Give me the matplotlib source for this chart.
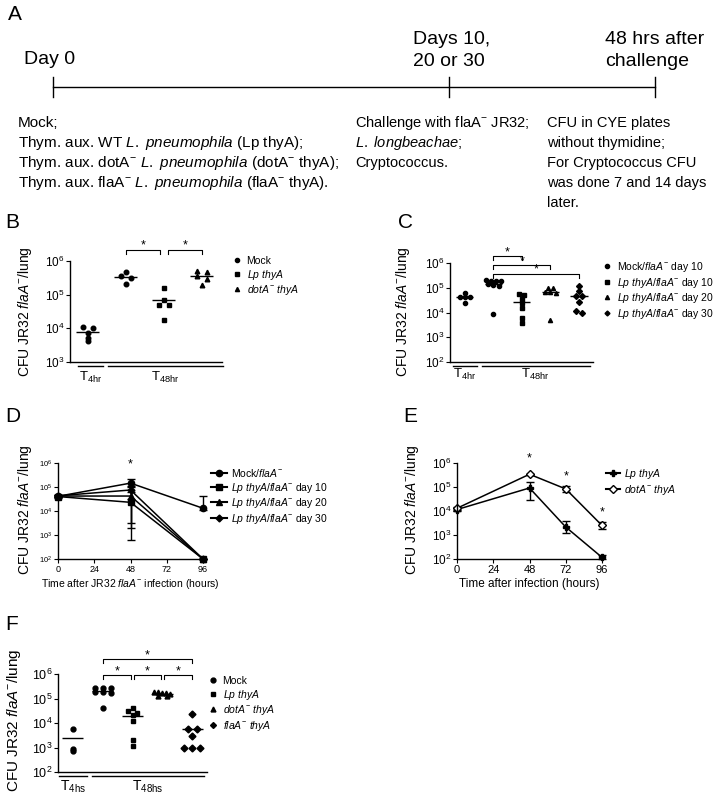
import numpy as np
import matplotlib
matplotlib.use('Agg')
import matplotlib.pyplot as plt
from matplotlib.lines import Line2D
from matplotlib.ticker import NullLocator

plt.rcParams['font.family'] = ['Liberation Sans', 'DejaVu Sans']
plt.rcParams['mathtext.fontset'] = 'custom'
plt.rcParams['mathtext.rm'] = 'Liberation Sans'
plt.rcParams['mathtext.it'] = 'Liberation Sans:italic'
plt.rcParams['mathtext.bf'] = 'Liberation Sans:bold'
plt.rcParams['mathtext.default'] = 'regular'
plt.rcParams['axes.linewidth'] = 1.0

# ---- data ----
# B: CFU at 4 h (mock) and 48 h after challenge
b_mock_4h = [1.1e4, 1.05e4, 7.5e3, 5.3e3, 4.2e3]
b_mock_48h = [4.7e5, 3.6e5, 3.2e5, 2.05e5]
b_lp_48h = [1.58e5, 7.1e4, 4.8e4, 4.8e4, 1.8e4]
b_dota_48h = [4.9e5, 4.8e5, 3.5e5, 2.9e5, 1.95e5]

# C: rechallenge at day 10/20/30
c_mock_4h = [6.2e4, 4.3e4, 4.2e4, 4.1e4, 2.5e4]
c_mock_d10 = [2.0e5, 1.9e5, 1.9e5, 1.8e5, 1.45e5, 1.3e5, 1.2e5, 9.0e3]
c_lp_d10 = [5.8e4, 4.9e4, 3.4e4, 2.5e4, 1.5e4, 6.2e3, 3.8e3]
c_lp_d20 = [1.0e5, 0.98e5, 6.8e4, 6.6e4, 6.4e4, 4.8e3]
c_lp_d30 = [1.15e5, 7.5e4, 4.8e4, 4.6e4, 2.7e4, 1.2e4, 1.0e4]

# D: time course
d_hours = [0, 48, 96]
d_mock = [4.1e4, 1.45e5, 1.3e4]
d_mock_hi = [4.5e4, 2.1e5, 4.2e4]
d_mock_lo = [3.8e4, 1.0e5, 1.1e4]
d_d10 = [4.0e4, 2.3e4, 1e2]
d_d10_hi = [4.4e4, 3.3e4, 1e2]
d_d10_lo = [3.6e4, 6.3e2, 1e2]
d_d20 = [4.2e4, 4.2e4, 1e2]
d_d20_hi = [4.6e4, 6.0e4, 1e2]
d_d20_lo = [3.8e4, 1.9e3, 1e2]
d_d30 = [4.3e4, 7.5e4, 1e2]
d_d30_hi = [4.7e4, 1.05e5, 1e2]
d_d30_lo = [3.9e4, 3.3e3, 1e2]

# E: time course
e_hours = [0, 48, 72, 96]
e_lp = [1.15e4, 9.1e4, 2.15e3, 1.17e2]
e_lp_hi = [1.3e4, 1.55e5, 4.0e3, 1.4e2]
e_lp_lo = [1.0e4, 2.8e4, 1.2e3, 1.0e2]
e_dota = [1.3e4, 3.4e5, 8.3e4, 2.5e3]
e_dota_hi = [1.5e4, 3.6e5, 1.1e5, 3.6e3]
e_dota_lo = [1.1e4, 3.2e5, 6.0e4, 1.85e3]

# F
f_mock_4h = [5.5e3, 9.0e2, 7.0e2]
f_mock = [2.8e5, 2.6e5, 2.7e5, 1.85e5, 1.8e5, 1.75e5, 4.2e4]
f_lp = [4.2e4, 3.0e4, 2.6e4, 2.2e4, 1.2e4, 2.1e3, 1.1e3]
f_dota = [1.85e5, 1.8e5, 1.6e5, 1.6e5, 1.55e5, 1.3e5, 1.25e5]
f_flaa = [2.3e4, 5.7e3, 5.7e3, 2.9e3, 1.0e3, 1.0e3, 1.0e3]

YLAB = r'CFU JR32 $\mathit{flaA}^{-}$/lung'

W, H = 713, 795
fig = plt.figure(figsize=(W / 100, H / 100), dpi=100)

# overlay in pixel coordinates for panel A and labels
ov = fig.add_axes([0, 0, 1, 1], zorder=-1)
ov.set_xlim(0, W)
ov.set_ylim(H, 0)
ov.axis('off')


def px_axes(l, t, r, b):
    return fig.add_axes([l / W, 1 - b / H, (r - l) / W, (b - t) / H])


def style_log(ax, ymin, ymax, fs):
    ax.set_yscale('log')
    ax.set_ylim(ymin, ymax)
    ax.set_yticks(10.0 ** np.arange(np.log10(ymin), np.log10(ymax) + 1))
    ax.yaxis.set_minor_locator(NullLocator())
    ax.tick_params(axis='y', labelsize=fs, length=3, width=0.8, pad=1)
    for s in ['top', 'right']:
        ax.spines[s].set_visible(False)


def spread(vals, step, maxw, tol=0.1):
    # simple beeswarm: points with close values side by side
    logs = np.log10(vals)
    order = np.argsort(-logs)
    offs = np.zeros(len(vals))
    i = 0
    while i < len(order):
        j = i
        while j + 1 < len(order) and logs[order[i]] - logs[order[j + 1]] < tol:
            j += 1
        n = j - i + 1
        st = min(step, maxw / (n - 1)) if n > 1 else 0
        for k in range(n):
            offs[order[i + k]] = (k - (n - 1) / 2) * st
        i = j + 1
    return offs


def dot_panel(ax, groups, markers, ms, step, maxw, half):
    for i, (vals, m) in enumerate(zip(groups, markers)):
        vals = np.array(vals)
        x = i + spread(vals, step, maxw)
        ax.plot(x, vals, ls='', marker=m, color='k', ms=ms, clip_on=False)
        ax.hlines(vals.mean(), i - half, i + half, color='k', lw=1)


def time_groups(ax, spans, labels, y_line, y_text, fs):
    tr = ax.get_xaxis_transform()
    for (a, b), lab in zip(spans, labels):
        ax.plot([a, b], [y_line, y_line], color='k', lw=1, transform=tr, clip_on=False)
        ax.text((a + b) / 2, y_text, lab, transform=tr, ha='center', va='center', fontsize=fs)


def bracket(ax, x1, x2, y, tick=0.04, fs=9):
    tr = ax.get_xaxis_transform()
    ax.plot([x1, x1, x2, x2], [y - tick, y, y, y - tick], color='k', lw=0.8,
            transform=tr, clip_on=False)
    ax.text((x1 + x2) / 2, y - 0.02, '*', transform=tr, ha='center', va='bottom', fontsize=fs)


def legend_at(ax, handles, labels, x, y, fs, hl=1.0):
    ax.legend(handles, labels, loc='upper left', bbox_to_anchor=(x / W, 1 - y / H),
              bbox_transform=fig.transFigure, frameon=False, fontsize=fs, borderpad=0,
              borderaxespad=0, handletextpad=0.4, labelspacing=0.15, handlelength=hl)


def mk(m, ms, ls='', **kw):
    return Line2D([], [], color='k', marker=m, ms=ms, ls=ls, **kw)


# ---- panel A ----
ov.text(8, 14, 'A', fontsize=15, ha='left', va='center')
ov.plot([53, 655], [87, 87], color='k', lw=1)
for x in [53, 449, 655]:
    ov.plot([x, x], [77, 97], color='k', lw=1)
ov.text(24, 60, 'Day 0', fontsize=14, va='center')
ov.text(413, 40, 'Days 10,', fontsize=14, va='center')
ov.text(413, 62, '20 or 30', fontsize=14, va='center')
ov.text(605, 40, '48 hrs after', fontsize=14, va='center')
ov.text(605, 62, 'challenge', fontsize=14, va='center')

col1 = ['Mock;',
        r'Thym. aux. WT $\mathit{L.\ pneumophila}$ (Lp thyA);',
        r'Thym. aux. dotA$^{-}$ $\mathit{L.\ pneumophila}$ (dotA$^{-}$ thyA);',
        r'Thym. aux. flaA$^{-}$ $\mathit{L.\ pneumophila}$ (flaA$^{-}$ thyA).']
col2 = [r'Challenge with flaA$^{-}$ JR32;', r'$\mathit{L.\ longbeachae}$;', 'Cryptococcus.']
col3 = ['CFU in CYE plates', 'without thymidine;', 'For Cryptococcus CFU',
        'was done 7 and 14 days', 'later.']
for x0, col, fs in [(18, col1, 11), (355, col2, 10.5), (547, col3, 10.5)]:
    for k, s in enumerate(col):
        ov.text(x0, 123 + 20 * k, s, fontsize=fs, va='center')

# ---- panel B ----
ov.text(5, 222, 'B', fontsize=15, va='center')
axB = px_axes(70, 261, 222, 362)
style_log(axB, 1e3, 1e6, 8.5)
axB.set_xlim(-0.47, 3.53)
axB.set_xticks([])
dot_panel(axB, [b_mock_4h, b_mock_48h, b_lp_48h, b_dota_48h],
          ['o', 'o', 's', '^'], 3.3, 0.26, 0.6, 0.3)
bracket(axB, 1.0, 1.9, 1.11)
bracket(axB, 2.1, 3.0, 1.11)
time_groups(axB, [(-0.26, 0.39), (0.53, 3.55)], [r'T$_{4hr}$', r'T$_{48hr}$'], -0.04, -0.15, 9.5)
ov.text(25, 312, YLAB, rotation=90, ha='center', va='center', fontsize=10)
legend_at(axB, [mk('o', 3), mk('s', 3), mk('^', 3)],
          ['Mock', r'$\mathit{Lp\ thyA}$', r'$\mathit{dotA}^{-}\ \mathit{thyA}$'], 232, 256, 7.5)

# ---- panel C ----
ov.text(398, 222, 'C', fontsize=15, va='center')
axC = px_axes(450, 263, 593, 362)
style_log(axC, 1e2, 1e6, 8.5)
axC.set_xlim(-0.52, 4.49)
axC.set_xticks([])
dot_panel(axC, [c_mock_4h, c_mock_d10, c_lp_d10, c_lp_d20, c_lp_d30],
          ['o', 'o', 's', '^', 'D'], 3.0, 0.18, 0.55, 0.3)
bracket(axC, 1, 2, 1.07)
bracket(axC, 1, 3, 0.98)
bracket(axC, 1, 4, 0.89)
time_groups(axC, [(-0.42, 0.42), (0.59, 4.37)], [r'T$_{4hr}$', r'T$_{48hr}$'], -0.04, -0.13, 9.5)
ov.text(403, 312, YLAB, rotation=90, ha='center', va='center', fontsize=10)
legend_at(axC, [mk('o', 3), mk('s', 3), mk('^', 3), mk('D', 2.5)],
          [r'Mock/$\mathit{flaA}^{-}$ day 10',
           r'$\mathit{Lp\ thyA/flaA}^{-}$ day 10',
           r'$\mathit{Lp\ thyA/flaA}^{-}$ day 20',
           r'$\mathit{Lp\ thyA/flaA}^{-}$ day 30'], 602, 260, 7.5)

# ---- panel D ----
ov.text(5, 417, 'D', fontsize=15, va='center')
axD = px_axes(58, 463, 203, 559)
style_log(axD, 1e2, 1e6, 5.5)
axD.set_xlim(0, 96)
axD.set_xticks([0, 24, 48, 72, 96])
axD.tick_params(axis='x', labelsize=6.5, length=3, width=0.8, pad=1.5)
axD.set_xlabel(r'Time after JR32 $\mathit{flaA}^{-}$ infection (hours)', fontsize=7.5, labelpad=2)
d_series = [(d_mock, d_mock_lo, d_mock_hi, 'o', 4.5),
            (d_d10, d_d10_lo, d_d10_hi, 's', 4.5),
            (d_d20, d_d20_lo, d_d20_hi, '^', 4.5),
            (d_d30, d_d30_lo, d_d30_hi, 'D', 3.5)]
for y, lo, hi, m, ms in d_series:
    y = np.array(y)
    axD.errorbar(d_hours, y, yerr=[y - np.array(lo), np.array(hi) - y], color='k',
                 marker=m, ms=ms, lw=1.1, capsize=3, elinewidth=1, clip_on=False)
axD.text(48, 0.98, '*', transform=axD.get_xaxis_transform(), ha='center', va='center', fontsize=9)
ov.text(25, 510, YLAB, rotation=90, ha='center', va='center', fontsize=10)
legend_at(axD, [mk('o', 4.5, '-'), mk('s', 4.5, '-'), mk('^', 4.5, '-'), mk('D', 3.5, '-')],
          [r'Mock/$\mathit{flaA}^{-}$',
           r'$\mathit{Lp\ thyA/flaA}^{-}$ day 10',
           r'$\mathit{Lp\ thyA/flaA}^{-}$ day 20',
           r'$\mathit{Lp\ thyA/flaA}^{-}$ day 30'], 211, 467, 7.5, hl=1.5)

# ---- panel E ----
ov.text(403, 417, 'E', fontsize=15, va='center')
axE = px_axes(457, 463, 602, 559)
style_log(axE, 1e2, 1e6, 8.5)
axE.set_xlim(0, 96)
axE.set_xticks([0, 24, 48, 72, 96])
axE.tick_params(axis='x', labelsize=8, length=3, width=0.8, pad=1.5)
axE.set_xlabel('Time after infection (hours)', fontsize=8.5, labelpad=2)
for y, lo, hi, m, ms, fc in [(e_lp, e_lp_lo, e_lp_hi, 'P', 4, 'k'),
                             (e_dota, e_dota_lo, e_dota_hi, 'D', 4.5, 'white')]:
    y = np.array(y)
    axE.errorbar(e_hours, y, yerr=[y - np.array(lo), np.array(hi) - y], color='k',
                 marker=m, ms=ms, mfc=fc, lw=1.1, capsize=3, elinewidth=1, clip_on=False)
for hx, sy in [(48, 1.05), (72, 0.86), (96, 0.48)]:
    axE.text(hx, sy, '*', transform=axE.get_xaxis_transform(), ha='center', va='center', fontsize=9)
ov.text(412, 510, YLAB, rotation=90, ha='center', va='center', fontsize=10)
legend_at(axE, [mk('P', 4, '-'), mk('D', 4.5, '-', mfc='white')],
          [r'$\mathit{Lp\ thyA}$', r'$\mathit{dotA}^{-}\ \mathit{thyA}$'], 606, 467, 7.5, hl=1.3)

# ---- panel F ----
ov.text(5, 625, 'F', fontsize=15, va='center')
axF = px_axes(58, 674, 207, 772)
style_log(axF, 1e2, 1e6, 9)
axF.set_xlim(-0.5, 4.5)
axF.set_xticks([])
dot_panel(axF, [f_mock_4h, f_mock, f_lp, f_dota, f_flaa],
          ['o', 'o', 's', '^', 'D'], 3.5, 0.3, 0.55, 0.35)
bracket(axF, 1.0, 1.95, 0.99)
bracket(axF, 2.05, 2.95, 0.99)
bracket(axF, 3.05, 4.0, 0.99)
bracket(axF, 1.0, 4.0, 1.15)
time_groups(axF, [(-0.47, 0.47), (0.64, 4.4)], [r'T$_{4hs}$', r'T$_{48hs}$'], -0.04, -0.15, 10)
ov.text(14, 720, YLAB, rotation=90, ha='center', va='center', fontsize=11)
legend_at(axF, [mk('o', 3.5), mk('s', 3.5), mk('^', 3.5), mk('D', 3)],
          ['Mock', r'$\mathit{Lp\ thyA}$', r'$\mathit{dotA}^{-}\ \mathit{thyA}$',
           r'$\mathit{flaA}^{-}\ \mathit{thyA}$'], 208, 676, 7.5)

fig.savefig('out.png', dpi=100)
